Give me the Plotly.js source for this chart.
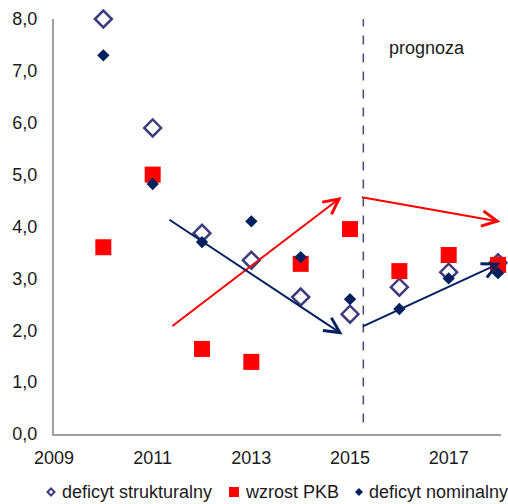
<!DOCTYPE html>
<html><head><meta charset="utf-8">
<script src="https://cdn.plot.ly/plotly-3.0.1.min.js"></script>
<style>html,body{margin:0;padding:0;background:#fff}#chart{width:508px;height:504px}</style>
</head><body><div id="chart"></div>
<script>
const years = [2010, 2011, 2012, 2013, 2014, 2015, 2016, 2017, 2018];
const deficytStrukturalny = [8.0, 5.9, 3.87, 3.35, 2.64, 2.31, 2.83, 3.12, 3.3];
const wzrostPKB = [3.6, 5.0, 1.64, 1.39, 3.28, 3.95, 3.14, 3.45, 3.26];
const deficytNominalny = [7.3, 4.82, 3.7, 4.1, 3.41, 2.6, 2.41, 3.0, 3.1];
const seriesNames = ['deficyt strukturalny', 'wzrost PKB', 'deficyt nominalny'];
const xTicks = [2009, 2011, 2013, 2015, 2017];
const yTicks = [0, 1, 2, 3, 4, 5, 6, 7, 8];
// trend arrows: [tailX, tailY, headX, headY]
const redArrows = [[2011.37, 2.06, 2014.83, 4.57], [2015.21, 4.57, 2018.05, 4.09]];
const navyArrows = [[2011.31, 4.15, 2014.85, 1.92], [2015.23, 2.06, 2018.05, 3.3]];
const forecastStart = 2015.27;
const forecastLabel = 'prognoza';

const FONT = 'Liberation Sans, Arial, sans-serif';
const C_STRUCT = '#3b3b7d', C_PKB = '#ff0000', C_NOM = '#002060';
const traces = [
  {x: years, y: deficytStrukturalny, name: seriesNames[0], type: 'scatter', mode: 'markers', cliponaxis: false,
   marker: {symbol: 'diamond-open', size: 13, color: C_STRUCT, line: {width: 2.5, color: C_STRUCT}}},
  {x: years, y: wzrostPKB, name: seriesNames[1], type: 'scatter', mode: 'markers', cliponaxis: false,
   marker: {symbol: 'square', size: 16, color: C_PKB}},
  {x: years, y: deficytNominalny, name: seriesNames[2], type: 'scatter', mode: 'markers', cliponaxis: false,
   marker: {symbol: 'diamond', size: 9.5, color: C_NOM}}
];

function arrow(a, color) {
  return {x: a[2], y: a[3], ax: a[0], ay: a[1], xref: 'x', yref: 'y', axref: 'x', ayref: 'y',
    showarrow: true, arrowhead: 5, arrowsize: 1.5, arrowwidth: 2, arrowcolor: color, text: ''};
}
const annotations = [];
redArrows.forEach(a => annotations.push(arrow(a, C_PKB)));
navyArrows.forEach(a => annotations.push(arrow(a, C_NOM)));
annotations.push({x: 2016.56, y: 7.44, xref: 'x', yref: 'y', text: forecastLabel, showarrow: false,
  font: {family: FONT, size: 18, color: '#1a1a1a'}});

// manual one-row legend (plot area: 447 x 415 px starting at left 54, top 19)
const PW = 447, PH = 415;
const px = v => (v - 54) / PW;
const legY = -(492 - 434) / PH;
const legTextX = [60, 243, 367];
seriesNames.forEach((n, i) => annotations.push({x: px(legTextX[i]), y: legY, xref: 'paper', yref: 'paper',
  xanchor: 'left', yanchor: 'middle', text: n, showarrow: false, font: {family: FONT, size: 18, color: '#1a1a1a'}}));

const shapes = [{type: 'line', xref: 'x', yref: 'y', x0: forecastStart, x1: forecastStart, y0: 0.22, y1: 8.06,
    line: {color: '#4a4a78', width: 1.5, dash: 'dash'}}];
function sym(cx, path, fill, line) {
  return {type: 'path', xref: 'paper', yref: 'paper', xsizemode: 'pixel', ysizemode: 'pixel',
    xanchor: px(cx), yanchor: legY, path: path, fillcolor: fill, line: line};
}
shapes.push(sym(51, 'M-3.5,0 L0,3.5 L3.5,0 L0,-3.5 Z', 'rgba(0,0,0,0)', {color: C_STRUCT, width: 2}));
shapes.push(sym(234, 'M-5,-5 L5,-5 L5,5 L-5,5 Z', C_PKB, {width: 0}));
shapes.push(sym(359, 'M-4,0 L0,4 L4,0 L0,-4 Z', C_NOM, {width: 0}));

const layout = {
  width: 508, height: 504,
  margin: {l: 54, r: 7, t: 19, b: 70},
  paper_bgcolor: '#fff', plot_bgcolor: '#fff',
  separators: ',.',
  font: {family: FONT, size: 18, color: '#1a1a1a'},
  xaxis: {range: [2009, 2018.06], tickvals: xTicks, ticktext: xTicks.map(String), showgrid: false, zeroline: false,
    showline: true, linecolor: '#a0a0a0', linewidth: 2, ticks: '', ticklabelstandoff: 6,
    tickfont: {family: FONT, size: 18, color: '#1a1a1a'}},
  yaxis: {range: [0, 8], tickvals: yTicks, tickformat: '.1f', showgrid: false, zeroline: false,
    showline: true, linecolor: '#a0a0a0', linewidth: 2, ticks: '', ticklabelstandoff: 11,
    tickfont: {family: FONT, size: 18, color: '#1a1a1a'}},
  showlegend: false,
  shapes: shapes,
  annotations: annotations
};
Plotly.newPlot('chart', traces, layout, {displayModeBar: false, staticPlot: true});
</script></body></html>
